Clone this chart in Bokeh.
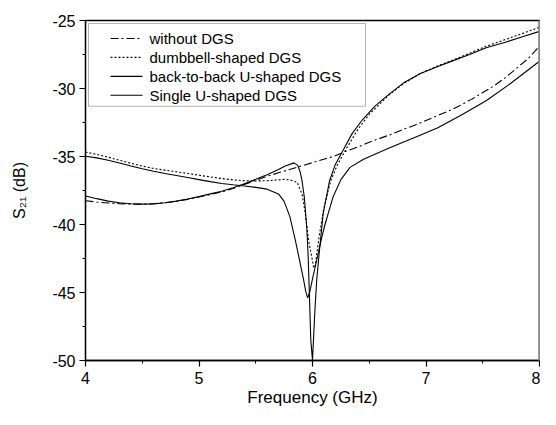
from bokeh.plotting import figure
from bokeh.models import (Range1d, SingleIntervalTicker, BoxAnnotation, Label, LinearAxis,
                          FixedTicker, CustomJSTickFormatter)
from bokeh.embed import file_html
from bokeh.resources import INLINE

FONT = "Liberation Sans"

# ---------------- data ----------------
f_without = [4.0, 4.1, 4.2, 4.3, 4.4, 4.5, 4.6, 4.7, 4.8, 4.9, 5.0, 5.1, 5.2, 5.3, 5.4, 5.5,
             5.6, 5.7, 5.8, 5.9, 6.0, 6.1, 6.2, 6.3, 6.4, 6.5, 6.6, 6.7, 6.8, 6.9, 7.0, 7.1,
             7.2, 7.3, 7.4, 7.5, 7.6, 7.7, 7.8, 7.9, 8.0]
s_without = [-38.25, -38.35, -38.42, -38.47, -38.5, -38.5, -38.47, -38.4, -38.3, -38.15, -37.98,
             -37.8, -37.6, -37.35, -37.05, -36.75, -36.45, -36.2, -35.95, -35.7, -35.45, -35.2,
             -34.95, -34.6, -34.3, -33.95, -33.65, -33.35, -33.0, -32.7, -32.35, -32.0, -31.65,
             -31.25, -30.8, -30.3, -29.8, -29.2, -28.5, -27.8, -26.9]

f_dumbbell = [4.0, 4.1, 4.2, 4.3, 4.4, 4.5, 4.6, 4.7, 4.8, 4.9, 5.0, 5.1, 5.2, 5.3, 5.4, 5.5,
              5.6, 5.7, 5.75, 5.8, 5.865, 5.908, 5.937, 5.966, 5.994, 6.01, 6.025, 6.04, 6.06,
              6.1, 6.16, 6.22, 6.3, 6.4, 6.5, 6.67, 6.8, 6.95, 7.1, 7.24, 7.4, 7.53, 7.7, 7.85, 8.0]
s_dumbbell = [-34.67, -34.85, -35.05, -35.28, -35.5, -35.7, -35.88, -36.0, -36.12, -36.25, -36.38,
              -36.5, -36.62, -36.72, -36.78, -36.8, -36.78, -36.72, -36.68, -36.72, -36.9, -37.77,
              -39.2, -41.2, -42.4, -43.2, -43.0, -42.0, -40.8, -38.8, -36.8, -35.6, -34.4, -33.0,
              -31.9, -30.5, -29.65, -28.9, -28.35, -27.9, -27.35, -26.9, -26.4, -25.95, -25.5]

f_b2b = [4.0, 4.1, 4.2, 4.3, 4.4, 4.5, 4.6, 4.7, 4.8, 4.9, 5.0, 5.1, 5.2, 5.3, 5.4, 5.5, 5.6,
         5.7, 5.76, 5.837, 5.87, 5.89, 5.908, 5.928, 5.951, 5.962, 5.972, 5.985, 6.0, 6.02,
         6.037, 6.06, 6.094, 6.15, 6.2, 6.266, 6.35, 6.44, 6.55, 6.67, 6.8, 6.95, 7.1, 7.24,
         7.4, 7.53, 7.7, 7.85, 8.0]
s_b2b = [-37.9, -38.1, -38.28, -38.4, -38.47, -38.5, -38.48, -38.4, -38.28, -38.12, -37.95,
         -37.75, -37.55, -37.3, -37.0, -36.68, -36.35, -35.95, -35.7, -35.47, -35.65, -36.1,
         -36.8, -38.0, -40.4, -42.4, -45.0, -48.5, -50.0, -46.5, -44.1, -42.0, -39.2, -36.8,
         -35.6, -34.6, -33.3, -32.3, -31.3, -30.45, -29.6, -28.9, -28.4, -27.95, -27.45, -27.0,
         -26.6, -26.2, -25.8]

f_single = [4.0, 4.1, 4.2, 4.3, 4.4, 4.5, 4.6, 4.7, 4.8, 4.9, 5.0, 5.1, 5.2, 5.3, 5.4, 5.5, 5.6,
            5.7, 5.75, 5.8, 5.85, 5.88, 5.92, 5.94, 5.957, 5.975, 6.0, 6.04, 6.08, 6.11, 6.18,
            6.25, 6.33, 6.45, 6.67, 6.9, 7.1, 7.3, 7.53, 7.75, 8.0]
s_single = [-34.98, -35.1, -35.28, -35.48, -35.7, -35.9, -36.08, -36.25, -36.4, -36.55, -36.7,
            -36.85, -36.98, -37.08, -37.17, -37.27, -37.4, -37.75, -38.3, -39.4, -41.2, -42.4,
            -44.0, -44.9, -45.4, -45.0, -44.0, -42.5, -41.0, -40.0, -38.0, -36.7, -35.8, -35.2,
            -34.4, -33.6, -32.9, -32.0, -30.9, -29.6, -28.0]

labels = ["without DGS", "dumbbell-shaped DGS", "back-to-back U-shaped DGS", "Single U-shaped DGS"]
dashes = ["8 3 2 3", "2 2", "solid", "solid"]

x_ticks_interval = 1
y_ticks_interval = 5

# ---------------- layout ----------------
W, H = 540, 409
BL, BR, BT, BB = 85, 1, 20, 48
FW, FH = W - BL - BR, H - BT - BB
X0, X1, Y0, Y1 = 4, 8, -50, -25

p = figure(width=W, height=H, output_backend="svg", toolbar_location=None,
           x_range=Range1d(X0, X1), y_range=Range1d(Y0, Y1),
           min_border_left=BL, min_border_right=BR, min_border_top=BT, min_border_bottom=BB)
p.xgrid.visible = False
p.ygrid.visible = False
p.background_fill_color = "white"
p.border_fill_color = "white"
p.outline_line_color = "black"
p.outline_line_width = 1.3

fmt = CustomJSTickFormatter(code="return tick.toString();")
p.xaxis.ticker = SingleIntervalTicker(interval=x_ticks_interval, num_minor_ticks=2)
p.yaxis.ticker = SingleIntervalTicker(interval=y_ticks_interval, num_minor_ticks=2)
for ax in (p.xaxis[0], p.yaxis[0]):
    ax.formatter = fmt
    ax.axis_line_color = "black"
    ax.axis_line_width = 1.3
    ax.major_tick_line_color = "black"
    ax.minor_tick_line_color = "black"
    ax.major_tick_line_width = 1.2
    ax.minor_tick_line_width = 1.0
    ax.major_tick_in = 0
    ax.major_tick_out = 6
    ax.minor_tick_in = 0
    ax.minor_tick_out = 3
    ax.major_label_text_font = FONT
    ax.major_label_text_font_size = "16px"
    ax.major_label_text_color = "black"
    ax.axis_label_text_font = FONT
    ax.axis_label_text_font_style = "normal"
    ax.axis_label_text_color = "black"

p.xaxis.axis_label = "Frequency (GHz)"
p.xaxis.axis_label_text_font_size = "17px"
p.xaxis.major_label_standoff = 5
p.xaxis.axis_label_standoff = 1
p.yaxis.axis_label = "S\u2082\u2081 (dB)"
p.yaxis.axis_label_text_font_size = "16px"
p.yaxis.major_label_standoff = 4
p.yaxis.axis_label_standoff = 21

# grey right border as in the reference
rax = LinearAxis(ticker=FixedTicker(ticks=[]), major_tick_out=0, minor_tick_out=0,
                 major_tick_in=0, minor_tick_in=0, major_label_standoff=0,
                 axis_line_color="#888888", axis_line_width=2.5)
p.add_layout(rax, "right")

series = [(f_without, s_without), (f_dumbbell, s_dumbbell), (f_b2b, s_b2b), (f_single, s_single)]
for (xs, ys), d in zip(series, dashes):
    p.line(xs, ys, line_color="black", line_width=1.1, line_dash=d)

# ---------------- legend (drawn by hand to match the reference box) ----------------
def dx(px):
    return X0 + px * (X1 - X0) / FW

def dy(py):
    return Y1 - py * (Y1 - Y0) / FH

p.add_layout(BoxAnnotation(left=dx(3), right=dx(280), top=dy(3), bottom=dy(86),
                           fill_color=None, line_color="black", line_width=1.0))
row_y = [18, 37, 56, 75]
for ry, lab, d in zip(row_y, labels, dashes):
    p.line([dx(25), dx(57)], [dy(ry), dy(ry)], line_color="black", line_width=1.1, line_dash=d)
    p.add_layout(Label(x=dx(64), y=dy(ry), text=lab, text_baseline="middle",
                       text_font=FONT, text_font_size="15px", text_color="black"))

open("out.html", "w").write(file_html(p, INLINE))
